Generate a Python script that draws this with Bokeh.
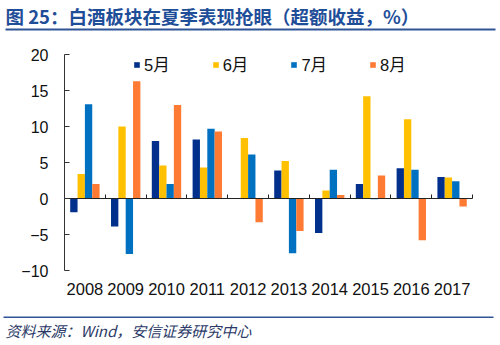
from bokeh.plotting import figure
from bokeh.models import (ColumnDataSource, Range1d, LinearAxis,
                          FixedTicker, Label, BoxAnnotation, Legend, LegendItem)
from bokeh.transform import dodge
from bokeh.embed import file_html
from bokeh.resources import INLINE

years = ["2008", "2009", "2010", "2011", "2012", "2013", "2014", "2015", "2016", "2017"]
may = [-1.9, -3.9, 8.0, 8.2, 0.0, 3.9, -4.8, 2.0, 4.2, 3.0]
jun = [3.4, 10.0, 4.6, 4.3, 8.4, 5.2, 1.1, 14.2, 11.0, 2.9]
jul = [13.1, -7.7, 2.0, 9.7, 6.1, -7.6, 4.0, -0.1, 4.0, 2.4]
aug = [2.0, 16.3, 13.0, 9.3, -3.3, -4.5, 0.5, 3.2, -5.8, -1.1]
series_names = ["5月", "6月", "7月", "8月"]
y_ticks = [-10, -5, 0, 5, 10, 15, 20]
y_min, y_max = -10, 20

colors = ["#00308C", "#FFC000", "#0070C0", "#FF7A33"]
title_text = "图 25：白酒板块在夏季表现抢眼（超额收益，%）"
source_text = "资料来源：Wind，安信证券研究中心"
rule_color = "#2F5597"

idx = list(range(len(years)))
src = ColumnDataSource(dict(xc=idx, year=years, may=may, jun=jun, jul=jul, aug=aug))

# canvas / plotting-area layout (pixels)
W, H = 500, 345
PL, PR, PT, PB = 64, 472, 54, 270
n = len(years)
px_per_x = (PR - PL) / n
px_per_y = (PB - PT) / (y_max - y_min)
x_lo, x_hi = -0.5, n - 0.5


def xd(px):
    return x_lo + (px - PL) / px_per_x


def yd(py):
    return y_max - (py - PT) / px_per_y


p = figure(width=W, height=H, output_backend="svg", toolbar_location=None,
           x_range=Range1d(xd(0), xd(W)), y_range=Range1d(yd(H), yd(0)),
           x_axis_location=None, y_axis_location=None, min_border=0)
p.frame_width = W
p.frame_height = H
p.outline_line_color = None
p.xgrid.visible = False
p.ygrid.visible = False

num_font = "Liberation Sans"

# y axis
yax = LinearAxis(ticker=FixedTicker(ticks=y_ticks), fixed_location=x_lo, bounds=(y_min, y_max))
yax.major_tick_in = 5
yax.major_tick_out = 0
yax.minor_tick_line_color = None
yax.axis_line_color = "#333333"
yax.major_tick_line_color = "#333333"
yax.major_label_text_font = num_font
yax.major_label_text_font_size = "16px"
yax.major_label_text_color = "#111111"
yax.major_label_standoff = 16
p.add_layout(yax, "left")

# category labels under the plotting area
cax = LinearAxis(ticker=FixedTicker(ticks=idx), fixed_location=y_min, bounds=(x_lo, x_hi),
                 major_label_overrides={i: y for i, y in zip(idx, years)})
cax.axis_line_color = None
cax.major_tick_line_color = None
cax.minor_tick_line_color = None
cax.major_tick_out = 0
cax.major_tick_in = 0
cax.major_label_text_font = num_font
cax.major_label_text_font_size = "16.5px"
cax.major_label_text_color = "#111111"
cax.major_label_standoff = 12
p.add_layout(cax, "below")

# zero axis with category-boundary ticks
bounds = [i - 0.5 for i in range(n + 1)]
zax = LinearAxis(fixed_location=0, ticker=FixedTicker(ticks=bounds), bounds=(x_lo, x_hi),
                 major_label_overrides={b: "" for b in bounds})
zax.major_tick_in = 4
zax.major_tick_out = 0
zax.minor_tick_line_color = None
zax.axis_line_color = "#222222"
zax.major_tick_line_color = "#222222"
zax.major_label_standoff = 0
p.add_layout(zax, "below")

w = 0.18
offsets = [-1.5 * w, -0.5 * w, 0.5 * w, 1.5 * w]
renderers = []
for name, col, off, c in zip(series_names, ["may", "jun", "jul", "aug"], offsets, colors):
    r = p.vbar(x=dodge("xc", off), top=col, bottom=0, width=w,
               source=src, fill_color=c, line_color=None)
    renderers.append((name, r))

legend = Legend(items=[LegendItem(label=nm, renderers=[r]) for nm, r in renderers],
                orientation="horizontal", location=(133, H - 76))
legend.glyph_width = 7
legend.glyph_height = 7
legend.label_standoff = 4
legend.spacing = 42
legend.padding = 0
legend.margin = 0
legend.border_line_color = None
legend.background_fill_alpha = 0
legend.label_text_font = "Liberation Sans, Noto Sans CJK SC"
legend.label_text_font_size = "16.5px"
legend.label_text_color = "#111111"
legend.label_height = 20
p.add_layout(legend, "center")

# title, rules, source
p.add_layout(Label(x=5, y=H - 15, x_units="screen", y_units="screen", text=title_text,
                   text_font="Noto Sans CJK SC", text_font_size="18.5px", text_font_style="bold",
                   text_color="#1F4E99", text_baseline="middle"))
p.add_layout(BoxAnnotation(left=xd(5), right=xd(495), top=yd(28), bottom=yd(30),
                           fill_color=rule_color, fill_alpha=1, line_color=None))
p.add_layout(BoxAnnotation(left=xd(3), right=xd(493), top=yd(316), bottom=yd(317.5),
                           fill_color=rule_color, fill_alpha=1, line_color=None))
p.add_layout(Label(x=5, y=H - 330, x_units="screen", y_units="screen", text=source_text,
                   text_font="Noto Sans CJK SC", text_font_size="15px", text_font_style="italic",
                   text_color="#2B3A67", text_baseline="middle"))

open("out.html", "w").write(file_html(p, INLINE))
